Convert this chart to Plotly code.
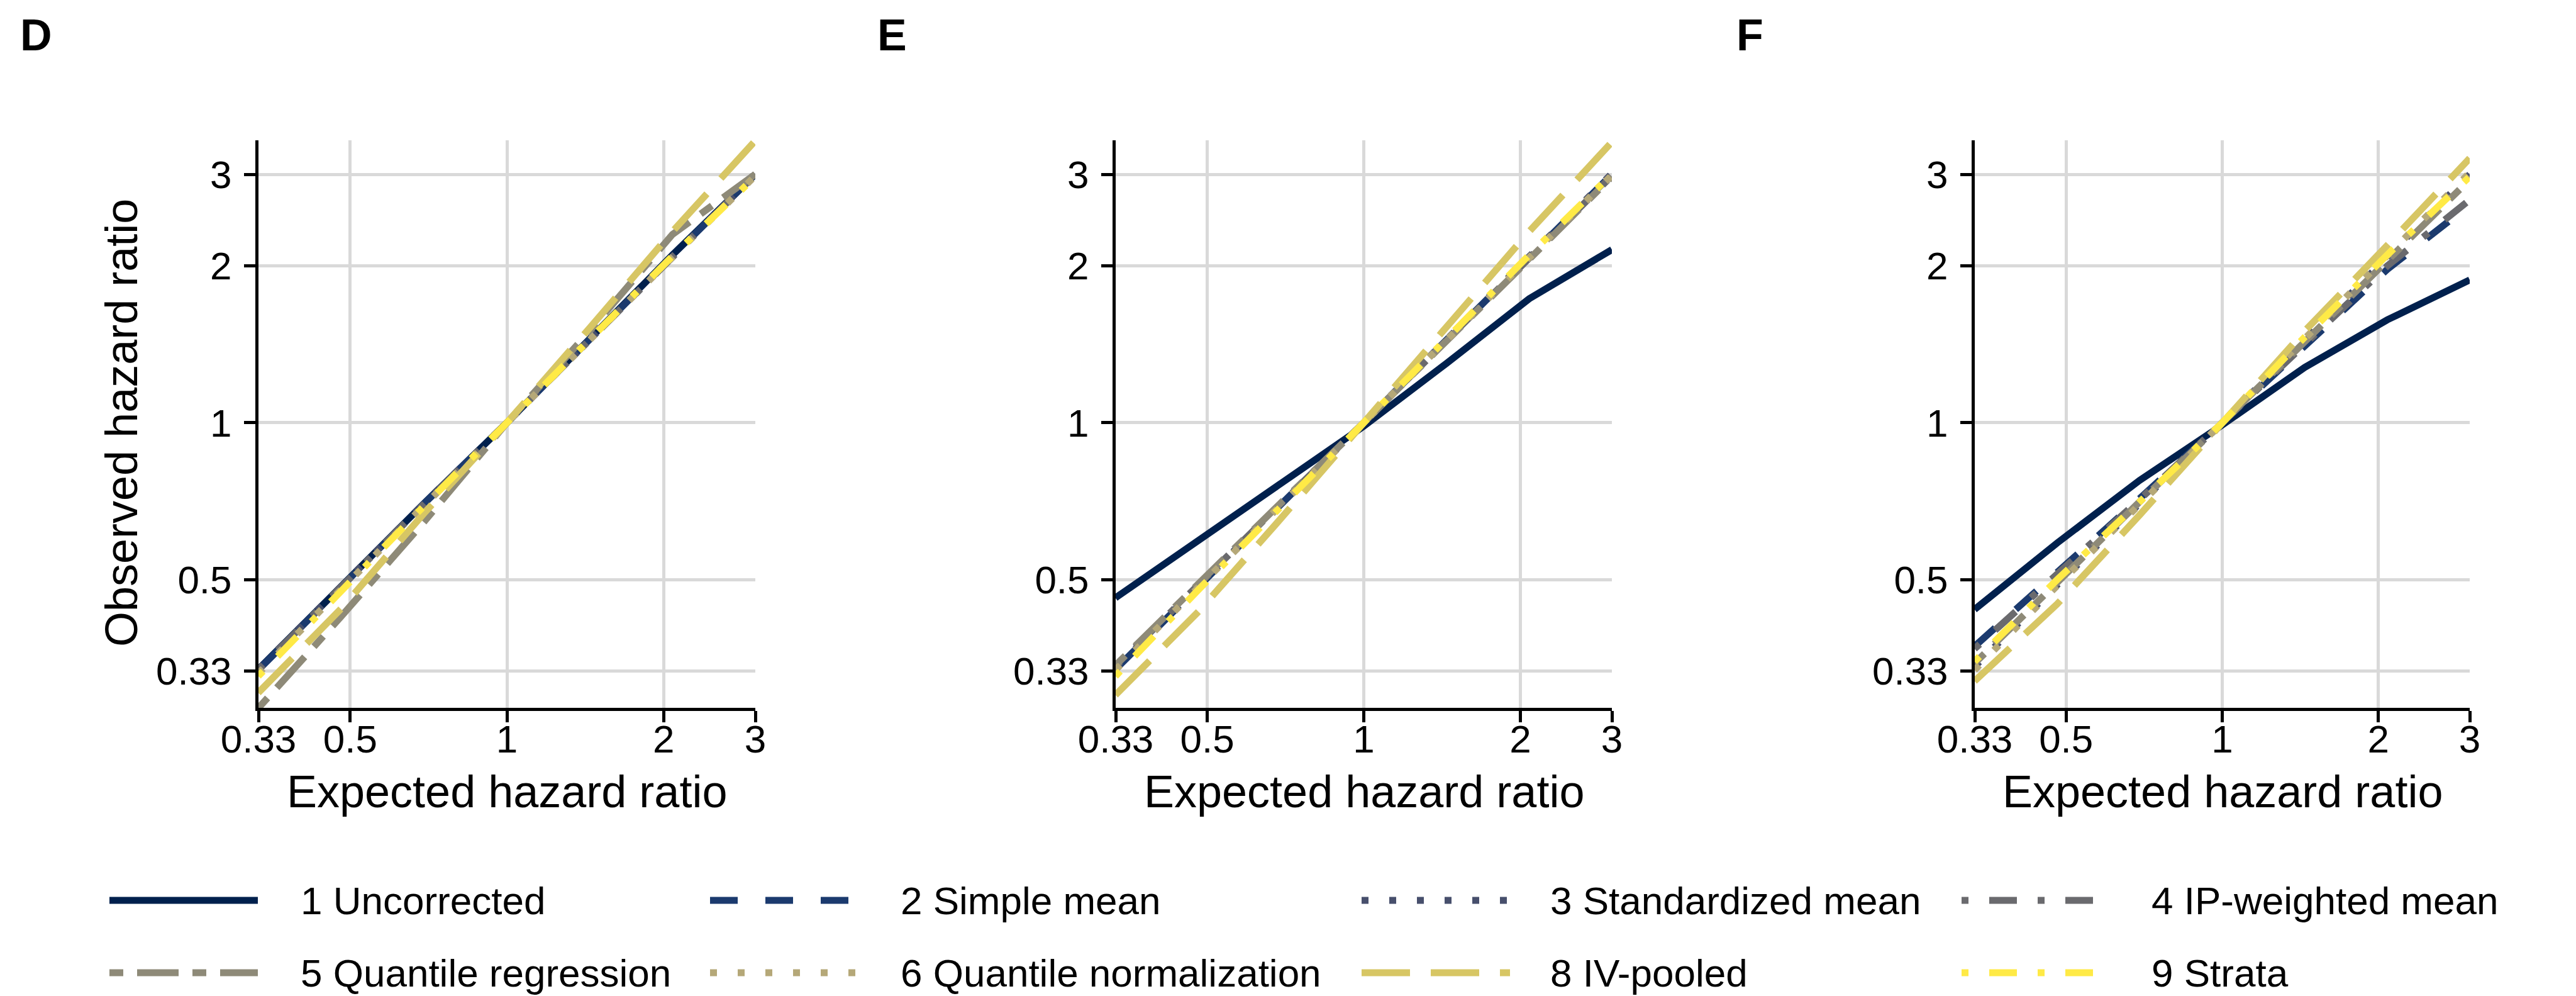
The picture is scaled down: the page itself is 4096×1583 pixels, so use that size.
import math
import plotly.graph_objects as go

# ---------------- data ----------------
expected_hr = [0.333, 0.481, 0.693, 1.0, 1.442, 2.08, 3.0]

methods = ["1 Uncorrected", "2 Simple mean", "3 Standardized mean", "4 IP-weighted mean",
           "5 Quantile regression", "6 Quantile normalization", "8 IV-pooled", "9 Strata"]

panel_labels = ["D", "E", "F"]

tick_vals = [1 / 3, 0.5, 1, 2, 3]
tick_text = ["0.33", "0.5", "1", "2", "3"]

# Panel D: observed hazard ratios
D_uncorrected = [0.336, 0.487, 0.700, 1.0, 1.450, 2.10, 3.00]
D_simple_mean = [0.335, 0.486, 0.699, 1.0, 1.448, 2.09, 3.00]
D_standardized = [0.336, 0.487, 0.700, 1.0, 1.447, 2.09, 3.01]
D_ip_weighted = [0.335, 0.485, 0.698, 1.0, 1.446, 2.09, 3.00]
D_quantile_reg = [0.283, 0.425, 0.645, 1.0, 1.500, 2.30, 3.00]
D_quantile_norm = [0.330, 0.480, 0.693, 1.0, 1.445, 2.08, 2.98]
D_iv_pooled = [0.303, 0.440, 0.670, 1.0, 1.520, 2.33, 3.48]
D_strata = [0.326, 0.478, 0.692, 1.0, 1.448, 2.09, 2.97]

# Panel E
E_uncorrected = [0.461, 0.593, 0.761, 0.985, 1.300, 1.73, 2.15]
E_simple_mean = [0.336, 0.486, 0.697, 1.0, 1.440, 2.07, 3.00]
E_standardized = [0.337, 0.487, 0.698, 1.0, 1.440, 2.08, 3.01]
E_ip_weighted = [0.340, 0.490, 0.700, 1.0, 1.440, 2.07, 2.98]
E_quantile_reg = [0.342, 0.492, 0.702, 1.0, 1.430, 2.06, 2.97]
E_quantile_norm = [0.335, 0.485, 0.695, 1.0, 1.440, 2.07, 2.99]
E_iv_pooled = [0.300, 0.434, 0.655, 1.0, 1.510, 2.33, 3.46]
E_strata = [0.326, 0.478, 0.690, 1.0, 1.450, 2.10, 3.00]

# Panel F
F_uncorrected = [0.438, 0.588, 0.775, 0.990, 1.277, 1.576, 1.88]
F_simple_mean = [0.372, 0.515, 0.715, 1.0, 1.400, 1.97, 2.62]
F_standardized = [0.340, 0.490, 0.700, 1.0, 1.440, 2.07, 3.00]
F_ip_weighted = [0.368, 0.512, 0.712, 1.0, 1.410, 2.00, 2.68]
F_quantile_reg = [0.345, 0.495, 0.705, 1.0, 1.430, 2.05, 2.93]
F_quantile_norm = [0.335, 0.487, 0.697, 1.0, 1.450, 2.09, 3.02]
F_iv_pooled = [0.319, 0.449, 0.665, 1.0, 1.500, 2.19, 3.22]
F_strata = [0.348, 0.500, 0.705, 1.0, 1.460, 2.10, 2.97]

panels = {
    "D": [D_uncorrected, D_simple_mean, D_standardized, D_ip_weighted,
          D_quantile_reg, D_quantile_norm, D_iv_pooled, D_strata],
    "E": [E_uncorrected, E_simple_mean, E_standardized, E_ip_weighted,
          E_quantile_reg, E_quantile_norm, E_iv_pooled, E_strata],
    "F": [F_uncorrected, F_simple_mean, F_standardized, F_ip_weighted,
          F_quantile_reg, F_quantile_norm, F_iv_pooled, F_strata],
}

# ---------------- style ----------------
W, H = 4096, 1583
FONT = "Liberation Sans, Arial, Helvetica, sans-serif"
LW = 11
colors = ["#00204D", "#1B3A6E", "#474F6C", "#6A6A6E",
          "#8E8A78", "#B5A878", "#D7C664", "#FFEA46"]
u = 11
dashes = [
    "solid",
    f"{4*u}px,{4*u}px",
    f"{1*u}px,{3*u}px",
    f"{1*u}px,{3*u}px,{4*u}px,{3*u}px",
    f"{2*u}px,{2*u}px,{6*u}px,{2*u}px",
    f"{1*u}px,{3*u}px",
    f"{7*u}px,{3*u}px",
    f"{1*u}px,{3*u}px,{4*u}px,{3*u}px",
]

x_px = [(411, 1201), (1774, 2563), (3140, 3927)]
y_top_px, y_bot_px = 222.5, 1125.4
y_domain = [1 - y_bot_px / H, 1 - y_top_px / H]
x_range = [math.log10(1 / 3), math.log10(3)]
y_range = [-0.548, 0.543]

fig = go.Figure()
layout = dict(
    width=W, height=H,
    margin=dict(l=0, r=0, t=0, b=0, pad=0),
    paper_bgcolor="white", plot_bgcolor="white",
    showlegend=False,
    font=dict(family=FONT, color="black"),
)

annotations = []
shapes = []

for i, key in enumerate(panel_labels):
    sfx = "" if i == 0 else str(i + 1)
    xa, ya = "x" + sfx, "y" + sfx
    for j, vals in enumerate(panels[key]):
        fig.add_trace(go.Scatter(
            x=expected_hr, y=vals, mode="lines", name=methods[j],
            xaxis=xa, yaxis=ya,
            line=dict(color=colors[j], width=LW, dash=dashes[j]),
            hoverinfo="skip",
        ))
    common = dict(
        type="log", tickvals=tick_vals, ticktext=tick_text,
        showgrid=True, gridcolor="#D9D9D9", gridwidth=4.5,
        showline=True, linecolor="black", linewidth=5,
        ticks="outside", ticklen=18, tickwidth=5, tickcolor="black",
        tickfont=dict(size=62, family=FONT, color="black"),
        zeroline=False, mirror=False, fixedrange=True, automargin=False,
    )
    l, r = x_px[i]
    layout["xaxis" + sfx] = dict(common, domain=[l / W, r / W], range=x_range,
                                  anchor=ya, ticklabelstandoff=-27)
    layout["yaxis" + sfx] = dict(common, domain=y_domain, range=y_range,
                                  anchor=xa, ticklabelstandoff=7)
    # x title
    annotations.append(dict(
        text="Expected hazard ratio", xref="paper", yref="paper",
        x=((l + r) / 2) / W, y=1 - 1258 / H, xanchor="center", yanchor="middle",
        showarrow=False, font=dict(size=72, family=FONT, color="black")))
    # panel label
    annotations.append(dict(
        text="<b>" + key + "</b>", xref="paper", yref="paper",
        x=(l - 381) / W, y=1 - 56 / H, xanchor="left", yanchor="middle",
        showarrow=False, font=dict(size=70, family=FONT, color="black")))

annotations.append(dict(
    text="Observed hazard ratio", xref="paper", yref="paper",
    x=193 / W, y=1 - 672 / H, xanchor="center", yanchor="middle", textangle=-90,
    showarrow=False, font=dict(size=72, family=FONT, color="black")))

# ---------------- manual legend ----------------
key_x = [174, 1129, 2165, 3119]
text_x = [476, 1430, 2463, 3419]
row_y = [1431, 1546]
key_w = 236
for k, name in enumerate(methods):
    row, col = divmod(k, 4)
    yy = 1 - row_y[row] / H
    shapes.append(dict(
        type="line", xref="paper", yref="paper",
        x0=key_x[col] / W, x1=(key_x[col] + key_w) / W, y0=yy, y1=yy,
        line=dict(color=colors[k], width=LW, dash=dashes[k])))
    annotations.append(dict(
        text=name, xref="paper", yref="paper",
        x=text_x[col] / W, y=yy, xanchor="left", yanchor="middle",
        showarrow=False, font=dict(size=62, family=FONT, color="black")))

layout["annotations"] = annotations
layout["shapes"] = shapes
fig.update_layout(**layout)
fig.write_html("out.html")
